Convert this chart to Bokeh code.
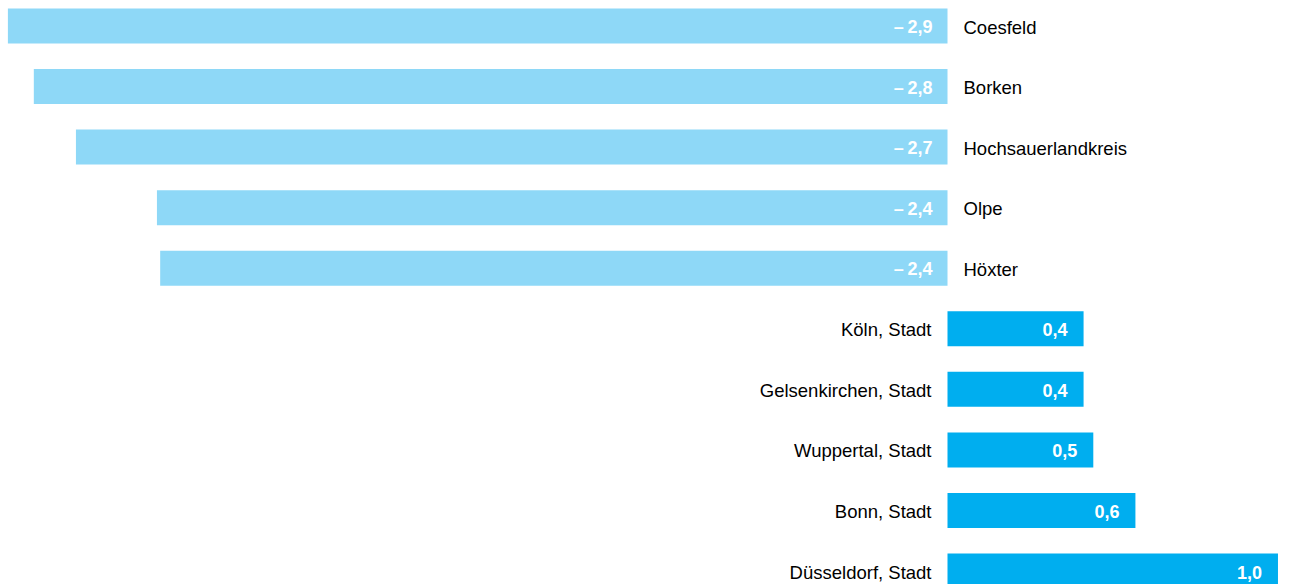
from bokeh.plotting import figure
from bokeh.models import ColumnDataSource, Range1d
from bokeh.embed import file_html
from bokeh.resources import INLINE
from bokeh.core.properties import value

regions = ["Coesfeld", "Borken", "Hochsauerlandkreis", "Olpe", "Höxter",
           "Köln, Stadt", "Gelsenkirchen, Stadt", "Wuppertal, Stadt", "Bonn, Stadt", "Düsseldorf, Stadt"]
changes = [-2.90, -2.82, -2.69, -2.44, -2.43, 0.42, 0.42, 0.45, 0.58, 1.02]

NEG = "#8ED8F7"
POS = "#00AEEF"

ys = [-i for i in range(len(regions))]
colors = [NEG if v < 0 else POS for v in changes]

def fmt(v):
    s = f"{abs(v):.1f}".replace(".", ",")
    return ("\u2013\u2009" + s) if v < 0 else s

src = ColumnDataSource(dict(y=ys, v=changes, c=colors, region=regions))

PITCH = 60.56
TOP = 0.289 + 8 / PITCH
p = figure(width=1290, height=584, output_backend="svg", toolbar_location=None,
           x_range=Range1d(-947 / 324, 343 / 324), y_range=Range1d(TOP - 584 / PITCH, TOP),
           min_border=0, outline_line_color=None, background_fill_color="white")
p.axis.visible = False
p.grid.visible = False

p.hbar(y="y", left=0, right="v", height=35 / PITCH, color="c", line_color=None, source=src)

neg_y = [y for y, v in zip(ys, changes) if v < 0]
neg_v = [v for v in changes if v < 0]
neg_r = [r for r, v in zip(regions, changes) if v < 0]
pos_y = [y for y, v in zip(ys, changes) if v >= 0]
pos_v = [v for v in changes if v >= 0]
pos_r = [r for r, v in zip(regions, changes) if v >= 0]

font = value("Liberation Sans")

# value labels
p.text(x=[0] * len(neg_y), y=neg_y, text=[fmt(v) for v in neg_v], x_offset=-15, y_offset=1,
       text_align="right", text_baseline="middle", text_color="white",
       text_font=font, text_font_style="bold", text_font_size="18px")
p.text(x=pos_v, y=pos_y, text=[fmt(v) for v in pos_v], x_offset=-16, y_offset=1,
       text_align="right", text_baseline="middle", text_color="white",
       text_font=font, text_font_style="bold", text_font_size="18px")

# category labels
p.text(x=[0] * len(neg_y), y=neg_y, text=neg_r, x_offset=16, y_offset=1,
       text_align="left", text_baseline="middle", text_color="black",
       text_font=font, text_font_size="18.5px")
p.text(x=[0] * len(pos_y), y=pos_y, text=pos_r, x_offset=-16, y_offset=1,
       text_align="right", text_baseline="middle", text_color="black",
       text_font=font, text_font_size="18.5px")

open("out.html", "w").write(file_html(p, INLINE))
